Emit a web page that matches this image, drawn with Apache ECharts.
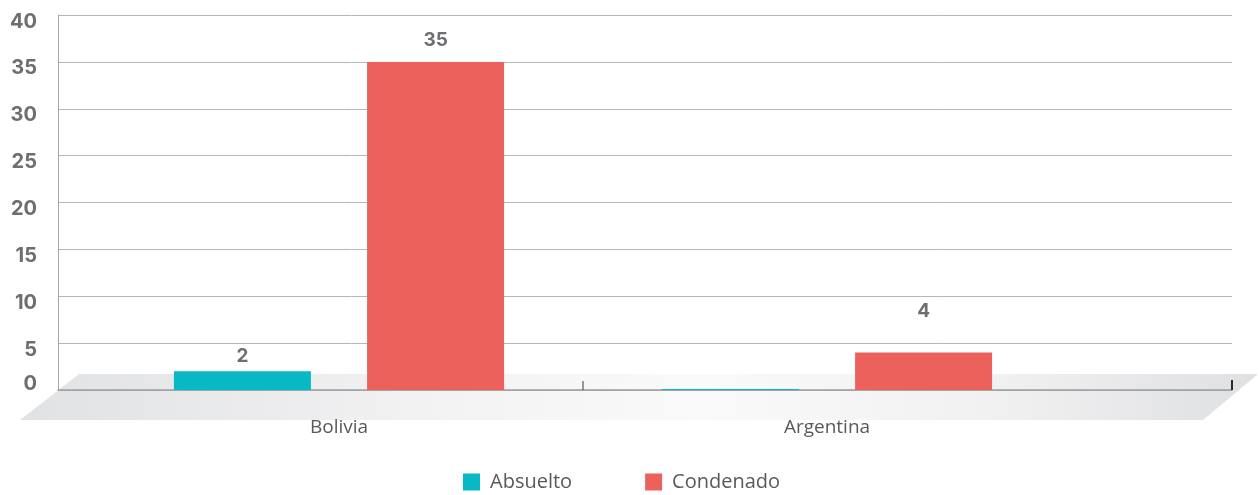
<!DOCTYPE html>
<html>
<head>
<meta charset="utf-8">
<script src="https://cdn.jsdelivr.net/npm/echarts@6/dist/echarts.min.js"></script>
<style>
  html, body { margin: 0; padding: 0; background: #ffffff; }
  #chart { width: 1260px; height: 495px; }
</style>
</head>
<body>
<div id="chart"></div>
<script>
// Verdicts per country
const categories = ['Bolivia', 'Argentina'];
const seriesNames = ['Absuelto', 'Condenado'];
const absuelto = [2, 0];
const condenado = [35, 4];

// Value axis range
const yMin = 0;
const yMax = 40;
const yStep = 5;

const TEAL = '#08b8c4';
const RED = '#ec615c';
const TEXT = '#6d6e71';
const FONT = 'Inter, "Noto Sans", sans-serif';
const FONT_LIGHT = '"Open Sans", Inter, sans-serif';

const chart = echarts.init(document.getElementById('chart'), null, { renderer: 'canvas' });

// gap between a bar top and its value label, per series and category
const absLabelGap = [5, 5];
const conLabelGap = [12, 32];

function makeData(values, gaps) {
  return values.map((v, i) => ({ value: v, label: { distance: gaps[i] } }));
}

const barLabel = {
  show: true,
  position: 'top',
  color: TEXT,
  fontFamily: FONT,
  fontWeight: 'bold',
  fontSize: 19,
  formatter: p => (p.value === 0 ? '' : p.value)
};

chart.setOption({
  animation: false,
  backgroundColor: '#ffffff',
  grid: [
    // back wall: gridlines and value labels
    { left: 58, right: 28, top: 15, bottom: 105 },
    // front: category bands holding the bars
    { left: 95, right: 189, top: 15, bottom: 105 }
  ],
  xAxis: [
    {
      gridIndex: 0, type: 'value', min: 0, max: 1,
      axisLine: { show: true, lineStyle: { color: '#9d9ea0', width: 1.5 } },
      axisTick: { show: false }, axisLabel: { show: false }, splitLine: { show: false }
    },
    {
      gridIndex: 1, type: 'category', data: categories,
      axisLine: { show: false }, axisTick: { show: false },
      axisLabel: { color: '#58595b', fontFamily: FONT_LIGHT, fontSize: 19, margin: 28 }
    }
  ],
  yAxis: [
    {
      gridIndex: 0, type: 'value', min: yMin, max: yMax, interval: yStep,
      axisLine: { show: true, lineStyle: { color: '#a7a8aa', width: 1 } },
      axisTick: { show: false },
      splitLine: { show: true, lineStyle: { color: '#b5b6b8', width: 1 } },
      axisLabel: {
        margin: 21,
        formatter: v => (v === 0 ? '{z|' + v + '}' : '{n|' + v + '}'),
        rich: {
          n: { color: TEXT, fontFamily: FONT, fontWeight: 'bold', fontSize: 20, padding: [13, 0, 0, 0] },
          z: { color: TEXT, fontFamily: FONT, fontWeight: 'bold', fontSize: 20, padding: [0, 0, 12, 0] }
        }
      }
    },
    {
      gridIndex: 1, type: 'value', min: yMin, max: yMax, interval: yStep,
      show: false
    }
  ],
  legend: {
    bottom: -2,
    left: 458,
    itemWidth: 17,
    itemHeight: 17,
    itemGap: 73,
    icon: 'rect',
    textStyle: { color: '#58595b', fontFamily: FONT_LIGHT, fontSize: 20, padding: [0, 0, 0, 5] },
    data: seriesNames
  },
  series: [
    {
      name: seriesNames[0], type: 'bar', xAxisIndex: 1, yAxisIndex: 1,
      data: makeData(absuelto, absLabelGap), barWidth: 137, barGap: '41%', barMinHeight: 1,
      itemStyle: { color: TEAL }, label: barLabel, z: 3
    },
    {
      name: seriesNames[1], type: 'bar', xAxisIndex: 1, yAxisIndex: 1,
      data: makeData(condenado, conLabelGap), barWidth: 137, barGap: '41%',
      itemStyle: { color: RED }, label: barLabel, z: 3
    }
  ]
});

// Floor slab under the plot and the axis tick marks, placed from the axes' own pixel positions
function drawDecor() {
  const bl = chart.convertToPixel({ xAxisIndex: 0, yAxisIndex: 0 }, [0, yMin]);
  const br = chart.convertToPixel({ xAxisIndex: 0, yAxisIndex: 0 }, [1, yMin]);
  const c0 = chart.convertToPixel({ xAxisIndex: 1, yAxisIndex: 1 }, [0, yMin]);
  const c1 = chart.convertToPixel({ xAxisIndex: 1, yAxisIndex: 1 }, [1, yMin]);
  const x0 = bl[0], x1 = br[0], y0 = bl[1];
  const midTick = (c0[0] + c1[0]) / 2;

  chart.setOption({
    graphic: [
      {
        type: 'polygon', z: -10, silent: true,
        shape: { points: [[x0 + 21, y0 - 16], [x1 + 26, y0 - 16], [x1 - 29, y0 + 30], [x0 - 38, y0 + 30]] },
        style: {
          fill: new echarts.graphic.LinearGradient(0, 0, 1, 0, [
            { offset: 0, color: '#e1e2e4' },
            { offset: 0.35, color: '#f3f3f4' },
            { offset: 0.55, color: '#fafafa' },
            { offset: 0.8, color: '#f0f0f1' },
            { offset: 1, color: '#dfe0e2' }
          ])
        }
      },
      {
        type: 'line', z: 10, silent: true,
        shape: { x1: midTick, y1: y0 - 9, x2: midTick, y2: y0 },
        style: { stroke: '#3a3a3a', lineWidth: 1 }
      },
      {
        type: 'line', z: 10, silent: true,
        shape: { x1: x1, y1: y0 - 10, x2: x1, y2: y0 },
        style: { stroke: '#2a2a2a', lineWidth: 2 }
      }
    ]
  });
}
drawDecor();
</script>
</body>
</html>
